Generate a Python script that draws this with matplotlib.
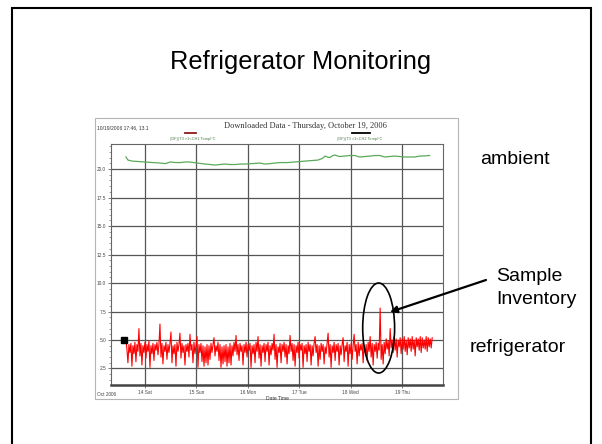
import numpy as np
import matplotlib
matplotlib.use('Agg')
import matplotlib.pyplot as plt
from matplotlib.patches import Rectangle, Ellipse

plt.rcParams['font.family'] = ['Liberation Sans', 'DejaVu Sans']

# ambient temperature (channel 2), day of October 2006 -> deg C
ambient_day = [13.63, 13.67, 13.75, 13.88, 14.00, 14.15, 14.29, 14.40, 14.49, 14.60,
               14.68, 14.78, 14.87, 15.01, 15.10, 15.17, 15.27, 15.36, 15.45, 15.55,
               15.65, 15.75, 15.85, 15.94, 16.08, 16.23, 16.33, 16.43, 16.53, 16.62,
               16.76, 16.91, 17.01, 17.11, 17.25, 17.36, 17.44, 17.50, 17.55, 17.59,
               17.65, 17.69, 17.78, 17.88, 17.98, 18.08, 18.17, 18.27, 18.37, 18.47,
               18.56, 18.66, 18.75, 18.85, 18.95, 19.05, 19.15, 19.24, 19.34, 19.44,
               19.53]
ambient_temp = [21.06, 20.79, 20.70, 20.66, 20.62, 20.57, 20.53, 20.48, 20.62, 20.57,
                20.57, 20.62, 20.62, 20.53, 20.48, 20.44, 20.40, 20.35, 20.40, 20.44,
                20.40, 20.40, 20.44, 20.44, 20.48, 20.53, 20.44, 20.48, 20.53, 20.57,
                20.57, 20.62, 20.66, 20.70, 20.75, 20.79, 20.92, 21.14, 21.05, 21.01,
                21.18, 21.23, 21.10, 21.14, 21.19, 21.19, 21.06, 21.10, 21.14, 21.19,
                21.19, 21.06, 21.10, 21.14, 21.10, 21.06, 21.06, 21.06, 21.14, 21.16,
                21.19]

# refrigerator temperature (channel 1), evenly logged samples
fridge_start = 13.63
fridge_end = 19.58
fridge_temp = [
    5.0, 4.2, 3.0, 4.6, 3.9, 4.7, 2.7, 4.5, 3.8, 4.8, 3.1, 4.6, 4.0, 6.0, 3.6, 4.7, 2.8, 4.5, 3.9, 4.8,
    3.4, 4.6, 4.0, 4.9, 2.6, 4.5, 3.8, 4.7, 3.2, 4.6, 4.1, 4.8, 3.7, 4.6, 6.4, 3.5, 4.7, 2.9, 4.5, 4.0,
    4.8, 3.3, 4.6, 3.9, 4.7, 5.7, 3.0, 4.5, 3.8, 4.6, 2.7, 4.8, 4.0, 4.6, 5.6, 3.4, 4.7, 3.9, 4.5, 2.8,
    4.6, 4.0, 4.7, 3.5, 5.5, 4.1, 4.6, 3.0, 4.8, 3.8, 4.5, 5.3, 2.6, 4.6, 3.9, 4.7, 3.1, 4.5, 2.7, 4.4,
    3.0, 4.6, 2.8, 4.5, 3.3, 4.7, 3.9, 4.6, 5.2, 3.6, 4.5, 4.0, 4.8, 3.2, 4.6, 2.6, 4.4, 2.9, 4.5, 3.1,
    4.6, 2.7, 4.4, 3.0, 4.7, 2.8, 4.5, 3.6, 4.8, 4.0, 5.4, 3.7, 4.6, 3.2, 4.7, 4.0, 4.5, 2.8, 4.6, 3.9,
    4.8, 3.5, 4.6, 4.1, 4.7, 2.6, 4.5, 3.8, 4.6, 3.0, 4.8, 4.0, 5.3, 3.4, 4.6, 2.7, 4.5, 3.9, 4.7, 3.1,
    4.6, 4.0, 4.8, 2.8, 4.5, 3.7, 4.7, 4.1, 5.5, 3.3, 4.6, 2.6, 4.4, 3.9, 4.7, 3.0, 4.6, 4.0, 4.8, 3.5,
    4.6, 2.9, 4.5, 3.8, 5.4, 4.0, 4.7, 3.2, 4.6, 2.7, 4.5, 3.9, 4.8, 3.4, 4.6, 4.1, 4.7, 2.6, 4.5, 3.8,
    4.6, 3.1, 4.8, 4.0, 4.6, 2.8, 4.5, 3.6, 4.7, 5.3, 3.9, 4.6, 2.7, 4.5, 3.3, 4.7, 4.0, 4.6, 2.9, 4.4,
    3.8, 4.7, 5.6, 3.5, 4.6, 2.6, 4.5, 3.9, 4.8, 3.2, 4.6, 4.0, 4.7, 2.8, 4.5, 3.7, 4.6, 5.2, 3.1, 4.5,
    4.0, 4.8, 2.7, 4.6, 3.8, 4.7, 3.3, 4.5, 5.5, 4.0, 4.6, 2.9, 4.8, 3.6, 4.6, 4.1, 4.7, 3.0, 4.5, 3.9,
    4.6, 3.2, 4.8, 4.0, 5.3, 3.5, 4.7, 2.8, 4.6, 4.0, 4.8, 3.4, 4.7, 4.1, 7.8, 3.3, 4.6, 2.9, 4.8, 3.8,
    5.1, 4.2, 4.9, 3.6, 6.0, 4.3, 5.0, 3.9, 5.3, 4.1, 5.1, 3.5, 5.0, 4.4, 5.2, 3.8, 5.1, 4.2, 5.3, 4.0,
    5.0, 3.7, 5.2, 4.3, 5.1, 4.0, 5.3, 4.2, 5.0, 3.6, 5.2, 4.4, 5.1, 4.1, 5.3, 3.9, 5.2, 4.3, 5.0, 4.2,
    5.3, 4.0, 5.2, 4.4, 5.1, 4.3, 5.2]

day_ticks = [14, 15, 16, 17, 18, 19]
day_labels = ['14 Sat', '15 Sun', '16 Mon', '17 Tue', '18 Wed', '19 Thu']
temp_ticks = [2.5, 5.0, 7.5, 10.0, 12.5, 15.0, 17.5, 20.0]

W, H = 602, 444


def fx(x):
    return x / W


def fy(y):
    return 1 - y / H


fig = plt.figure(figsize=(W / 100, H / 100), dpi=100)
fig.patch.set_facecolor('white')

# slide border
fig.patches.append(Rectangle((fx(12), -0.1), fx(591) - fx(12), fy(8) + 0.1,
                             transform=fig.transFigure, fill=False,
                             edgecolor='black', linewidth=1.5, zorder=-2))
# frame of the embedded chart
fig.patches.append(Rectangle((fx(95), fy(399)), fx(458) - fx(95), fy(118) - fy(399),
                             transform=fig.transFigure, fill=False,
                             edgecolor='#b5b5b5', linewidth=0.8, zorder=-1))

fig.text(0.5, fy(69), 'Refrigerator Monitoring', ha='center', va='baseline', fontsize=18.3)

# chart header
fig.text(fx(97), fy(129), '10/19/2006 17:46, 13.1', fontsize=3.6, color='#333333', va='baseline')
fig.text(fx(305), fy(128), 'Downloaded Data - Thursday, October 19, 2006',
         family=['Liberation Serif', 'DejaVu Serif'], fontsize=6, color='#333333',
         ha='center', va='baseline')
fig.lines.append(plt.Line2D([fx(185), fx(196)], [fy(133), fy(133)], transform=fig.transFigure,
                            color='#8b1a1a', linewidth=1.3))
fig.text(fx(193), fy(140), '(DF)(T3 >1<CH1 Temp/\u00b0C', fontsize=2.8, color='#4a7a4a',
         ha='center', va='baseline')
fig.lines.append(plt.Line2D([fx(352), fx(370)], [fy(133.5), fy(133.5)], transform=fig.transFigure,
                            color='black', linewidth=1.3))
fig.text(fx(360), fy(140), '(DF)(T3 >1<CH2 Temp/\u00b0C', fontsize=2.8, color='#4a7a4a',
         ha='center', va='baseline')

ax = fig.add_axes([fx(111), fy(385), fx(443) - fx(111), fy(144) - fy(385)])
ax.patch.set_alpha(0)
fridge_day = np.linspace(fridge_start, fridge_end, len(fridge_temp))
ax.plot(fridge_day, fridge_temp, color='#ff0000', linewidth=0.8, zorder=3)
ax.plot(ambient_day, ambient_temp, color='#5aaa5a', linewidth=0.9, zorder=3)
ax.plot([fridge_day[0] - 0.04], [fridge_temp[0]], marker='s', markersize=3.8, color='black',
        zorder=4, clip_on=False)

ax.set_xlim(13.34, 19.79)
ax.set_ylim(1.05, 22.2)
ax.set_xticks(day_ticks)
ax.set_xticklabels(day_labels)
ax.set_yticks(temp_ticks)
ax.set_yticklabels(['%.1f' % t for t in temp_ticks])
ax.set_yticks(np.arange(1.5, 22.1, 0.5), minor=True)
ax.tick_params(axis='both', labelsize=3.4, labelcolor='#444444', color='#666666',
               length=2, width=0.6, pad=1.5)
ax.tick_params(axis='y', which='minor', length=1.2, width=0.5, color='#777777')
ax.grid(True, color='#555555', linewidth=0.9, zorder=1)
ax.set_axisbelow(True)
for side in ['top', 'right', 'left']:
    ax.spines[side].set_color('#666666')
    ax.spines[side].set_linewidth(0.8)
ax.spines['bottom'].set_color('#444444')
ax.spines['bottom'].set_linewidth(1.8)
ax.set_xlabel('Date Time', fontsize=3.6, color='#333333', labelpad=0.5)
fig.text(fx(97), fy(396), 'Oct 2006', fontsize=3.4, color='#444444', va='baseline')

# annotation of the inventory spike
ax.add_patch(Ellipse((18.54, 6.05), 0.62, 7.9, fill=False, edgecolor='black',
                     linewidth=1.2, zorder=5, clip_on=False))
ax.annotate('', xy=(390, H - 312), xycoords='figure pixels',
            xytext=(486, H - 280), textcoords='figure pixels',
            arrowprops=dict(arrowstyle='-|>', color='black', linewidth=1.6,
                            mutation_scale=10, shrinkA=0, shrinkB=0))

fig.text(fx(480), fy(164), 'ambient', fontsize=14, va='baseline')
fig.text(fx(496), fy(281), 'Sample', fontsize=14, va='baseline')
fig.text(fx(496), fy(304), 'Inventory', fontsize=14, va='baseline')
fig.text(fx(470), fy(352), 'refrigerator', fontsize=14, va='baseline')

fig.savefig('out.png', dpi=100)
